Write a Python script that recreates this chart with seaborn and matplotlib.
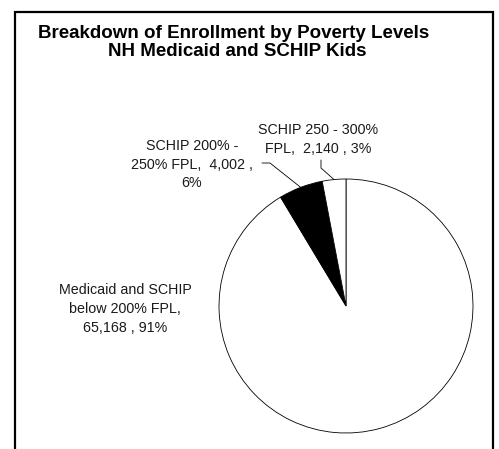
import matplotlib
matplotlib.use("Agg")
import matplotlib.pyplot as plt
import seaborn as sns
import numpy as np
from matplotlib.lines import Line2D
from matplotlib.patches import Rectangle

# ---- data ----
categories = ["Medicaid and SCHIP below 200% FPL",
              "SCHIP 200% - 250% FPL",
              "SCHIP 250 - 300% FPL"]
enrollment = [65168, 4002, 2140]
percent_labels = ["91%", "6%", "3%"]
slice_colors = ["white", "black", "white"]
title_lines = ["Breakdown of Enrollment by Poverty Levels",
               "NH Medicaid and SCHIP Kids"]
label_lines = [
    ["Medicaid and SCHIP", "below 200% FPL,", "65,168 , 91%"],
    ["SCHIP 200% -", "250% FPL,  4,002 ,", "6%"],
    ["SCHIP 250 - 300%", "FPL,  2,140 , 3%"],
]

sns.set_theme(style="white")
plt.rcParams["font.family"] = ["Liberation Sans", "DejaVu Sans"]

W, H = 499, 449
fig = plt.figure(figsize=(W / 100, H / 100), dpi=100)
fig.patch.set_facecolor("white")


def fx(x):
    return x / W


def fy(y):
    return 1 - y / H


# outer frame
frame_top = 12
fig.patches.append(Rectangle((fx(15), fy(470)), fx(478), (470 - frame_top) / H,
                             transform=fig.transFigure, fill=False,
                             edgecolor="black", linewidth=1.6, zorder=0))

# pie axes: center (346, 306), radius 127 px
cx, cy, r = 346, 306, 127
ax = fig.add_axes([fx(cx - r), fy(cy + r), 2 * r / W, 2 * r / H])
wedges, _ = ax.pie(enrollment, colors=slice_colors, startangle=90,
                   counterclock=False, radius=1.0,
                   wedgeprops=dict(edgecolor="black", linewidth=0.6))
ax.set_xlim(-1, 1)
ax.set_ylim(-1, 1)
ax.set_aspect("equal")
ax.axis("off")

# title
fig.text(fx(234), fy(34), title_lines[0], ha="center", va="center",
         fontsize=13.5, fontweight="bold", color="black")
fig.text(fx(237), fy(52), title_lines[1], ha="center", va="center",
         fontsize=13.5, fontweight="bold", color="black")

# data labels
label_centers = [(125, [290, 309, 328]),
                 (192, [146, 165, 183]),
                 (318, [130, 149])]
for lines, (lx, ys) in zip(label_lines, label_centers):
    for t, yy in zip(lines, ys):
        fig.text(fx(lx), fy(yy), t, ha="center", va="center",
                 fontsize=10.3, color="#1a1a1a")

# leader lines to wedge midpoints
total = sum(enrollment)
cum = np.cumsum([0] + enrollment)
mids = []
for i in range(len(enrollment)):
    a = 90 - 360 * (cum[i] + cum[i + 1]) / 2 / total
    mids.append((cx + r * np.cos(np.radians(a)), cy - r * np.sin(np.radians(a))))

leaders = {1: [(262, 163), (270, 163)], 2: [(321, 160), (321, 168)]}
for i, pts in leaders.items():
    xs = [p[0] for p in pts] + [mids[i][0]]
    ys = [p[1] for p in pts] + [mids[i][1]]
    fig.add_artist(Line2D([fx(v) for v in xs], [fy(v) for v in ys],
                          transform=fig.transFigure, color="black",
                          linewidth=0.6))

fig.savefig("out.png", dpi=100, facecolor="white")
